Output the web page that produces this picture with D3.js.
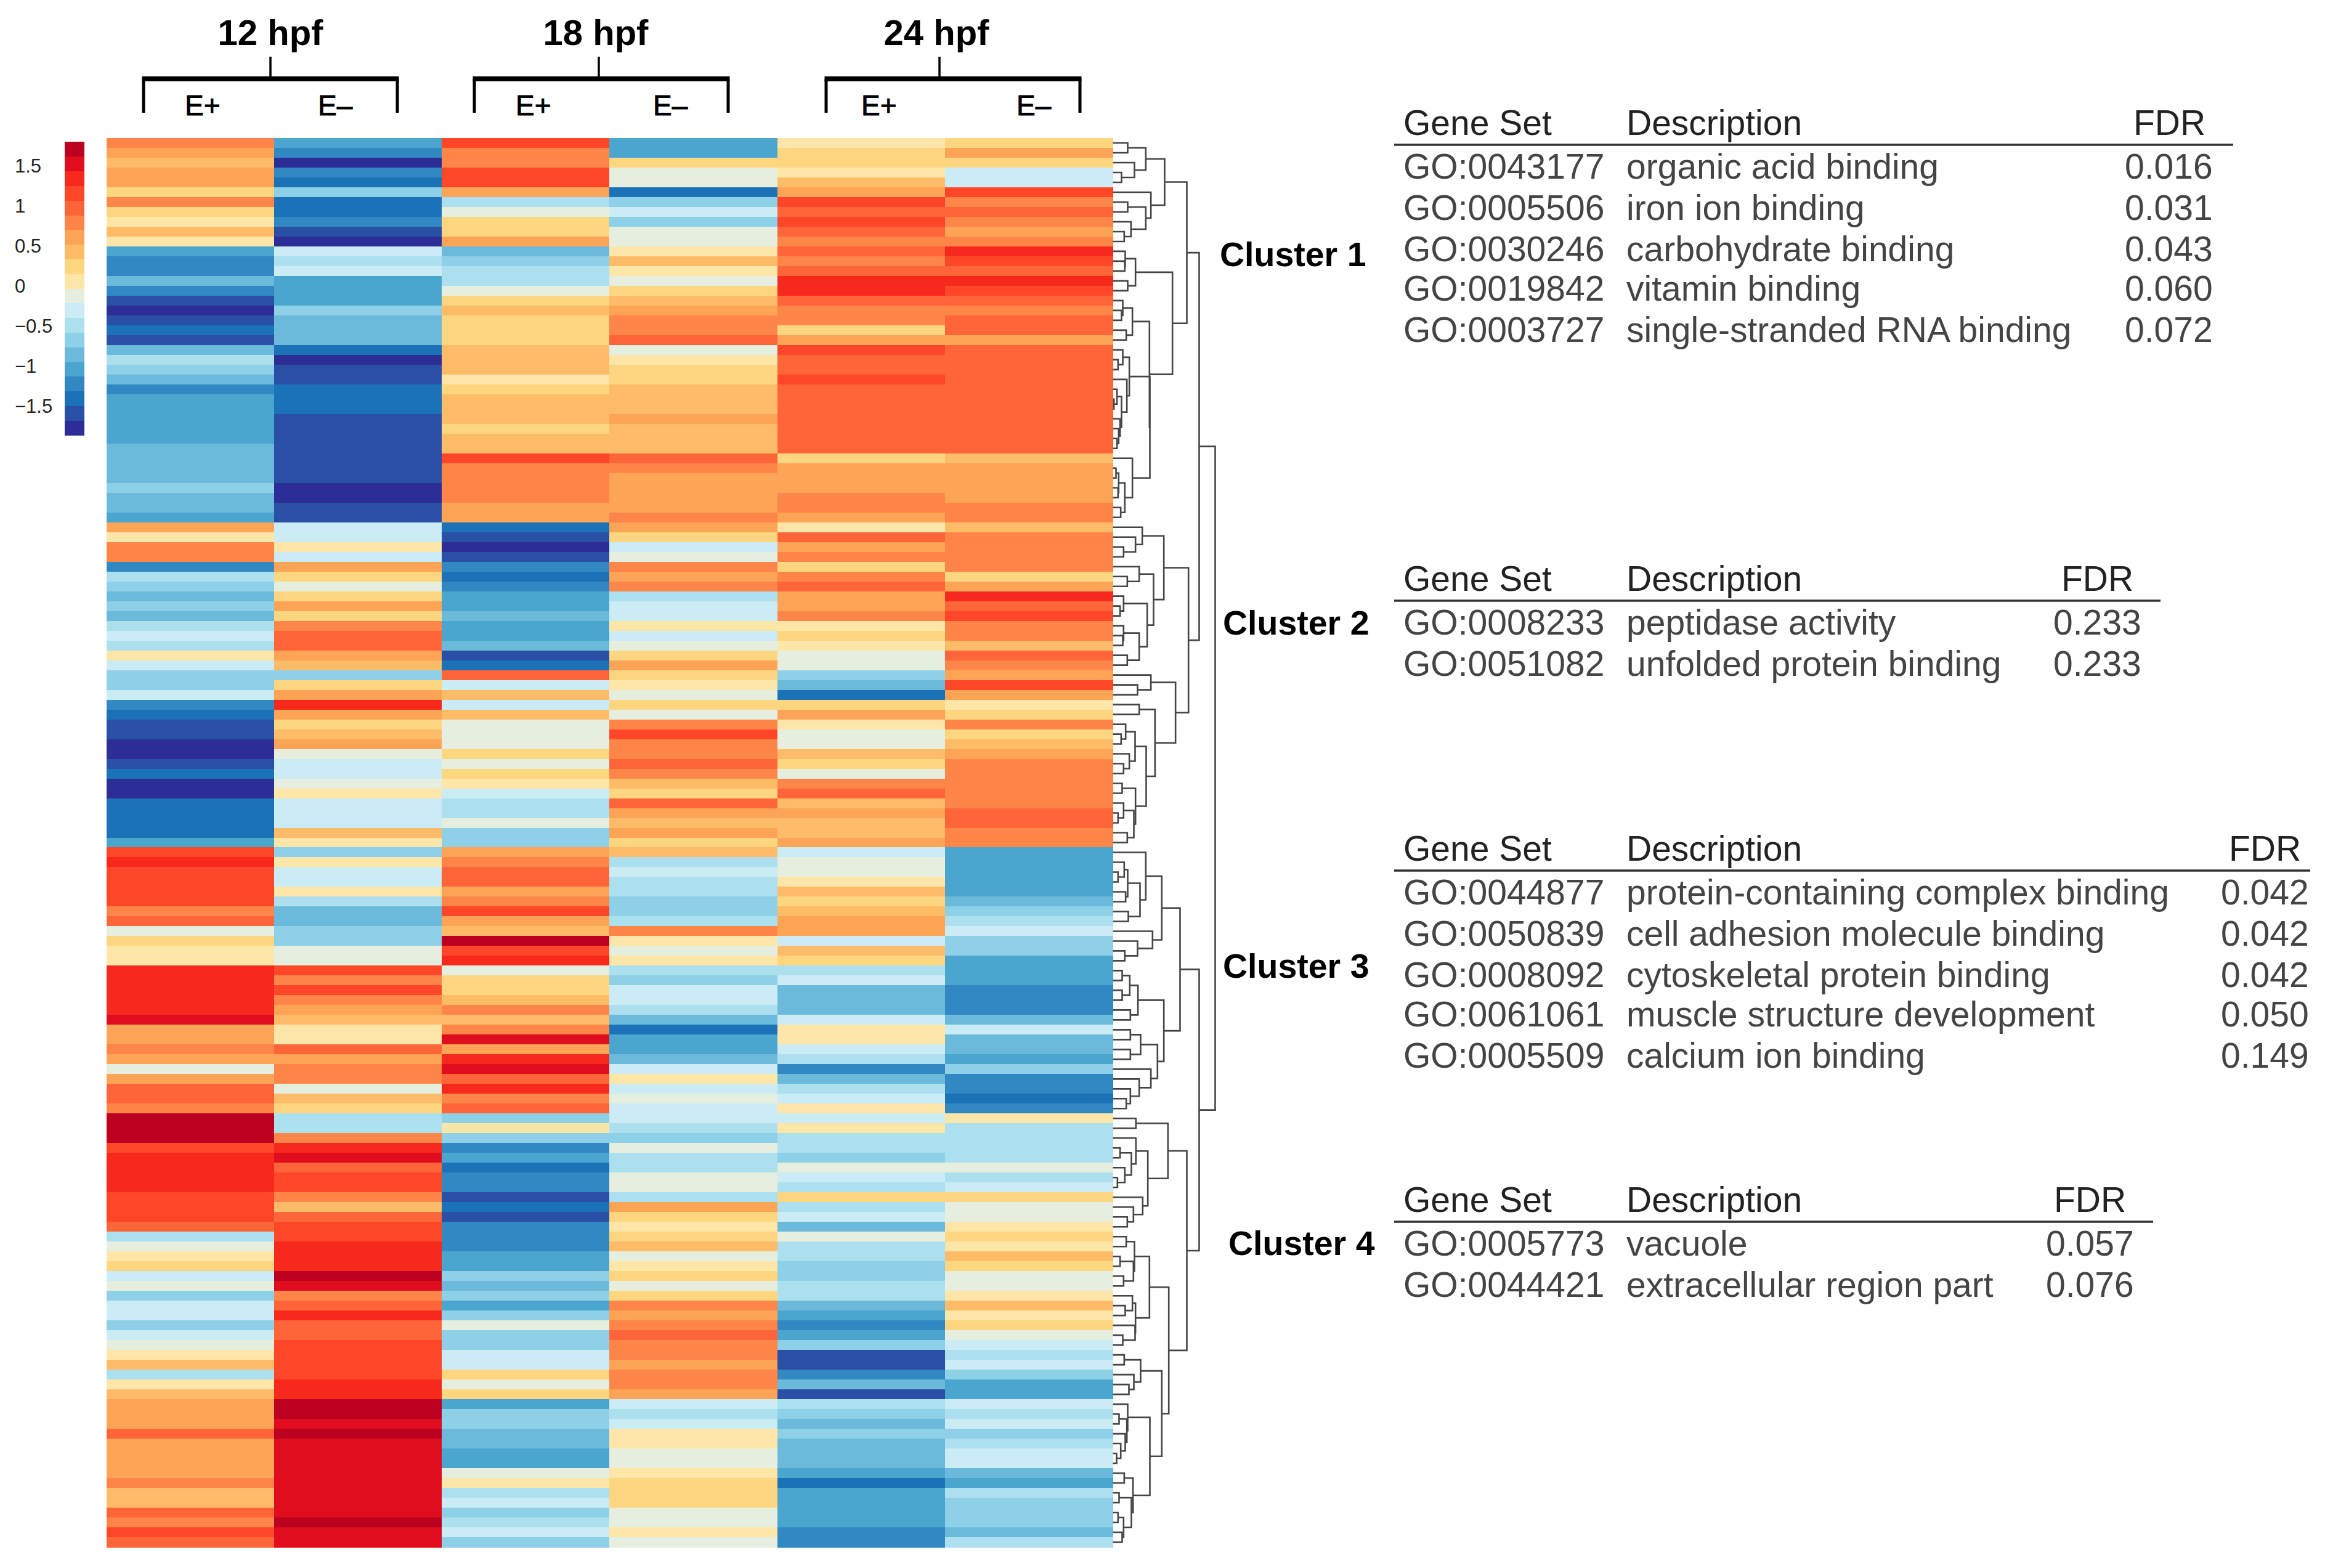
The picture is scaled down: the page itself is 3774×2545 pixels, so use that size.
<!DOCTYPE html>
<html>
<head>
<meta charset="utf-8">
<script src="https://cdn.jsdelivr.net/npm/d3@7"></script>
<style>
html,body{margin:0;padding:0;background:#fff}
svg{display:block}
text{font-family:"Liberation Sans",Arial,sans-serif}
</style>
</head>
<body>
<svg id="chart" width="3774" height="2545"></svg>
<script>
// ---------- data ----------
const conditions = ["12 E+","12 E-","18 E+","18 E-","24 E+","24 E-"];
const zE12p = [.8,.6,.4,.6,.6,.2,.8,.2,.1,.4,.1,-1,-1.2,-1.2,-.9,-1.2,-1.6,-1.8,-1.6,-1.4,-1.6,-.9,-.5,-.7,-.9,-1.2,-1,-1,-1,-1,-1,-.9,-.9,-.9,-.9,-.7,
-.9,-.9,-1,.6,.1,.8,.8,-1.2,-.5,-.7,-.9,-.7,-.9,-.5,-.3,-.5,.1,-.3,-.7,-.7,-.3,-1.2,-1.4,-1.6,-1.6,-1.8,-1.8,-1.6,-1.4,-1.8,-1.8,-1.4,-1.4,-1.4,-1.4,-1,
1.2,1.3,1.2,1.2,1.2,1.2,.8,1,-.1,.2,.1,.1,1.3,1.3,1.3,1.3,1.3,1.5,.6,.6,.8,.6,-.1,.6,1,1,.8,1.7,1.7,1.7,1.2,1.3,1.3,1.3,1.3,1.2,
1.2,1.2,1,-.5,-.1,.1,.2,-.3,-.1,-.7,-.3,-.3,-.7,-.3,-.1,.1,.4,-.5,.1,.4,.6,.6,.6,1,.6,.6,.6,.6,.8,.4,.4,1,.8,1.2,1];
const zE12m = [-1,-1.2,-1.8,-1.2,-1.4,-.7,-1.4,-1.4,-1.2,-1.6,-1.8,-.3,-.5,-.3,-1,-1,-1,-.7,-.9,-.9,-.9,-1.4,-1.8,-1.6,-1.6,-1.4,-1.4,-1.4,-1.6,-1.6,-1.6,-1.6,-1.6,-1.6,-1.6,-1.8,
-1.8,-1.6,-1.6,-.3,-.3,.1,-.3,.6,.2,-.1,.2,.6,.2,.8,1,1,.6,.4,-.7,.2,.6,1.3,.6,.2,.4,.6,-.1,-.3,-.3,-.1,.1,-.3,-.3,-.3,.4,.1,
-.7,.1,-.3,-.3,.1,-.5,-.9,-.9,-.7,-.7,-.1,-.1,1.2,.8,1.2,.8,.6,.4,.1,.1,1,.6,.8,.8,-.1,.4,.2,-.5,-.5,.8,1.3,1.5,1,1.2,1.2,.8,
.4,1,1.2,1.2,1.3,1.3,1.3,1.7,1.5,.8,1,1.3,1,1,1.2,1.2,1.2,1.2,1.3,1.3,1.7,1.7,1.5,1.7,1.5,1.5,1.5,1.5,1.5,1.5,1.5,1.5,1.7,1.5,1.5];
const zE18p = [1.2,.8,.8,1.2,1.2,.6,-.5,-.1,.2,.2,.6,-.9,-.7,-.5,-.5,-.1,.2,.4,.2,.2,.2,.4,.4,.4,.1,.2,.4,.4,.4,.2,.4,.4,1.2,.8,.8,.8,
.8,.6,.6,-1.4,-1.6,-1.8,-1.6,-1.2,-1.4,-1.2,-1,-1,-.9,-1,-1,-.9,-1.6,-1.4,1,-.3,.4,-.3,.4,-.1,-.1,-.1,.2,-.1,.2,.1,-.3,-.5,-.5,-.1,-.7,-.7,
.6,.8,1,1,.6,.8,1.2,.6,.4,1.7,1.2,1.3,-.1,.2,.2,.4,.8,.4,.8,1.5,.6,1.3,1.5,1,1.3,.8,1,-.7,.1,-.7,-1.2,-1,-1.4,-1.2,-1.2,-1.6,
-1.4,-1.6,-1.2,-1.2,-1.2,-1,-1,-.7,-.9,-.7,-1,-.7,-.1,-.7,-.7,-.3,-.3,.2,-.1,.2,-1,-.7,-.7,-.9,-.9,-1,-1,-.1,.1,-.5,-.3,-.7,-.5,-.3,-.7];
const zE18m = [-1,-1,.2,-.1,-.1,-1.4,-.7,-.3,-.7,-.1,-.1,.1,.4,.1,-.1,.2,.4,.6,.8,.8,1,-.1,.1,.2,.2,.4,.4,.4,.6,.4,.4,.4,1,.8,.6,.6,
.6,.6,.8,.6,.2,-.3,-.1,.8,.6,.8,-.5,-.3,-.3,.1,-.3,-.1,.2,.6,.2,.1,-.1,.2,-.1,.8,1.2,.8,.8,1,.8,.4,.2,1,.6,.4,.6,.2,
.4,-.5,-.3,-.5,-.5,-.7,-.7,-.5,.8,.1,-.1,.1,-.5,-.7,-.3,-.3,-.5,-.9,-1.4,-1,-1,-.9,-.3,.1,-.3,-.1,-.3,-.3,-.5,-.7,-.1,-.5,-.5,-.1,-.1,-.5,
.6,.2,.1,.2,.4,-.1,.1,.2,-.1,.2,.8,.6,.8,1,.8,.8,.6,.8,.8,.6,-.3,-.5,-.3,.1,.1,-.1,-.1,.1,.2,.2,.2,-.1,-.1,.1,-.1];
const zE24p = [.1,.2,.2,.1,.4,.6,1.2,1,1.2,1,.8,1,.8,1,1.3,1.3,1,.8,.8,.2,.6,1.2,1,1,1.2,1,1,1,1,1,1,1,.2,.6,.6,.6,
.8,.8,.6,.1,1,.6,.8,.2,.8,1,.6,.6,.8,.1,.2,.1,-.1,-.1,-.7,-.9,-1.4,.2,.6,.1,-.1,-.1,.4,.2,-.1,.8,1,.4,.6,.4,.4,.6,
-.3,-.1,-.1,.1,.4,.2,.4,.6,.6,-.3,.4,.2,-.5,-.3,-.9,-.9,-.9,-.3,.1,.1,-.3,-.5,-1.2,-.9,-.5,-.3,.1,-.3,.1,-.5,-.5,-.7,-.1,-.3,-.5,.2,
-.5,-.3,-.9,-.1,-.5,-.5,-.7,-.7,-.5,-.5,-.9,-1,-1.2,-1,-.7,-1.6,-1.6,-1.2,-.9,-1.6,-.5,-.7,-.9,-.7,-.9,-.9,-.9,-1,-1.4,-1,-1,-1,-1,-1.2,-1.2];
const zE24m = [.2,.6,.2,-.3,-.3,1.2,.8,1,.8,.6,.8,1.3,1.2,1,1.3,1.2,1,.8,1,1,.6,1,1,1,1,1,1,1,1,1,1,1,.4,.6,.6,.6,
.6,.8,.8,.4,.8,.8,.8,.8,.2,.6,1.3,1,1.2,.8,.8,.4,1,.8,.6,1.2,.6,.1,.2,.8,.2,.4,.6,.8,.8,.8,.8,.8,1,1,.8,.8,
-1,-1,-1,-1,-1,-.9,-.7,-.5,-.3,-.7,-.7,-1,-1,-1,-1.2,-1.2,-1.2,-.9,-.3,-.9,-.9,-1,-.7,-1.2,-1.2,-1.4,-1.2,.1,-.5,-.5,-.5,-.5,-.1,-.5,-.3,.2,
-.1,-.1,.1,.2,.1,.4,.2,-.1,-.1,.1,.4,.1,.2,-.1,-.3,-.5,-.3,-.7,-1,-1,-.3,-.5,-.3,-.7,-.5,-.3,-.3,-.9,-1,-.5,-.7,-.7,-.7,-.9,-.5];
const seriesValues = [zE12p,zE12m,zE18p,zE18m,zE24p,zE24m];

const palette = ["#2c2d96","#2a50a6","#1b72b6","#3288c2","#4aa6cf","#6bbadb","#8dd0e8","#ade0ee","#cbecf5","#e6efdf",
                 "#fde6a8","#fed680","#febc68","#fea457","#ff8548","#ff6539","#ff4629","#f7291c","#df0d1e","#bc001f"];
const legendTicks = [1.5,1,0.5,0,-0.5,-1,-1.5];

// dendrogram: [merge height, left child, right child]; 0 is a leaf, leaves in row order
const treeAB = [272,[180,[92,0,0],[125,0,[62,0,0]]],[205,0,[180,[92,0,0],[108,0,[75,0,0]]]]];
const tree310 = [310,[130,[80,0,[78,0,0]],[92,0,0]],
  [198,[115,[68,0,[62,0,0]],[85,0,0]],
   [200,[100,[68,0,[45,0,0]],[88,0,[62,[40,0,[25,0,0]],[55,0,[48,0,[40,0,0]]]]]],
        [115,0,[78,[48,[35,0,0],[45,0,0]],[58,0,0]]]]]];
const treeVa = [268,[163,0,[130,0,[72,0,0]]],
  [218,[148,0,[90,0,0]],[187,[72,0,[55,0,0]],[148,[72,0,[68,0,0]],[90,0,0]]]]];
const treeVb = [325,[205,0,[140,0,0]],
  [225,[148,0,0],[182,[128,[82,0,[60,0,0]],[100,0,[72,0,0]]],
                     [130,[65,0,0],[122,[72,0,[45,0,0]],[90,0,0]]]]]];
const treeC3 = [347,
  [258,[180,0,[152,[92,[75,0,[45,0,0]],[82,0,0]],[95,0,0]]],[213,0,[140,0,[78,0,0]]]],
  [268,[142,[102,[65,0,0],[65,0,0]],[105,0,0]],
       [237,[155,[105,0,0],[105,0,0]],[205,0,[148,0,[105,0,[85,0,0]]]]]]];
const treeD1 = [288,[132,0,0],[190,[132,0,[110,[55,0,0],[78,0,[42,0,0]]]],[165,0,[120,0,[90,0,0]]]]];
const treeD2 = [198,[125,[85,0,0],[120,[55,0,0],[72,0,0]]],[130,[115,0,[80,0,0]],[128,0,[68,0,0]]]];
const treeD3 = [258,[155,[75,0,0],[122,0,[98,0,0]]],
  [200,[92,0,[88,[50,0,0],[80,0,[58,0,[38,0,0]]]]],
       [118,[75,0,0],[110,[50,0,0],[72,[45,0,0],[65,0,0]]]]]];
const treeRoot = [518,[440,[380,treeAB,tree310],[388,treeVa,treeVb]],[440,treeC3,[380,treeD1,[292,treeD2,treeD3]]]];

const timeLabels = ["12 hpf","18 hpf","24 hpf"];
const clusterNames = ["Cluster 1","Cluster 2","Cluster 3","Cluster 4"];
const headGene = "Gene Set", headDesc = "Description", headFdr = "FDR";
const cluster1Sets = ["GO:0043177","GO:0005506","GO:0030246","GO:0019842","GO:0003727"];
const cluster1Desc = ["organic acid binding","iron ion binding","carbohydrate binding","vitamin binding","single-stranded RNA binding"];
const cluster1Fdr  = ["0.016","0.031","0.043","0.060","0.072"];
const cluster2Sets = ["GO:0008233","GO:0051082"];
const cluster2Desc = ["peptidase activity","unfolded protein binding"];
const cluster2Fdr  = ["0.233","0.233"];
const cluster3Sets = ["GO:0044877","GO:0050839","GO:0008092","GO:0061061","GO:0005509"];
const cluster3Desc = ["protein-containing complex binding","cell adhesion molecule binding","cytoskeletal protein binding","muscle structure development","calcium ion binding"];
const cluster3Fdr  = ["0.042","0.042","0.042","0.050","0.149"];
const cluster4Sets = ["GO:0005773","GO:0044421"];
const cluster4Desc = ["vacuole","extracellular region part"];
const cluster4Fdr  = ["0.057","0.076"];

// ---------- layout ----------
const svg = d3.select("#chart");
const rowIds = d3.range(zE12p.length);
const x = d3.scaleBand().domain(conditions).range([172.5,1806]);
const y = d3.scaleBand().domain(rowIds).range([224,2511]);
const color = d3.scaleQuantize().domain([-1.86,1.8]).range(palette);
const legendY = d3.scaleLinear().domain([-1.86,1.8]).range([706,230]);
const dendroX = d3.scaleLinear().domain([20,518]).range([1806.5,1972.5]);

// heatmap
const cols = svg.append("g").attr("shape-rendering","crispEdges").selectAll("g")
  .data(seriesValues).join("g").attr("transform",(d,i)=>`translate(${x(conditions[i])},0)`);
cols.selectAll("rect").data(d=>d).join("rect")
  .attr("x",0).attr("y",(d,i)=>y(i)).attr("width",x.bandwidth()+.6).attr("height",y.bandwidth()+.6)
  .attr("fill",d=>color(d));

// colour legend
svg.append("g").attr("shape-rendering","crispEdges").selectAll("rect").data(palette).join("rect")
  .attr("x",104.5).attr("width",32)
  .attr("y",c=>legendY(color.invertExtent(c)[1]))
  .attr("height",c=>legendY(color.invertExtent(c)[0])-legendY(color.invertExtent(c)[1])+.6)
  .attr("fill",c=>c);
svg.append("g").selectAll("text").data(legendTicks).join("text")
  .attr("x",24).attr("y",d=>legendY(d)).attr("dy","0.36em")
  .attr("font-size",31).attr("fill","#222")
  .text(d=>String(d).replace("-","\u2212"));

// dendrogram
const root = d3.hierarchy(treeRoot,d=>Array.isArray(d)?d.slice(1):null);
root.leaves().forEach((l,i)=>{l.py=y(i)+y.bandwidth()/2;});
root.eachAfter(n=>{
  n.h = Array.isArray(n.data)?n.data[0]:20;
  if(n.children) n.py = (n.children[0].py+n.children[1].py)/2;
});
svg.append("g").attr("fill","none").attr("stroke","#454545").attr("stroke-width",2.6)
  .selectAll("path").data(root.descendants().filter(n=>n.children)).join("path")
  .attr("d",n=>{
    const [a,b]=n.children, X=dendroX(n.h);
    return `M${dendroX(a.h)},${a.py}H${X}V${b.py}H${dendroX(b.h)}`;
  });

// top brackets
const brackets = [[233,645,439],[770,1182,972],[1341,1753,1525]];
const labelX = [439,967,1520];
const br = svg.append("g").selectAll("g").data(brackets).join("g");
br.append("path").attr("fill","none").attr("stroke","#000").attr("stroke-width",5)
  .attr("d",d=>`M${d[0]},183V128M${d[1]},183V128`);
br.append("path").attr("fill","none").attr("stroke","#000").attr("stroke-width",8)
  .attr("d",d=>`M${d[0]-2.5},128H${d[1]+2.5}`);
br.append("path").attr("fill","none").attr("stroke","#000").attr("stroke-width",3.5)
  .attr("d",d=>`M${d[2]},92V128`);
br.append("text").attr("x",(d,i)=>labelX[i]).attr("y",73).attr("text-anchor","middle")
  .attr("font-size",58).attr("font-weight","bold").attr("fill","#000").text((d,i)=>timeLabels[i]);
const subX = [[300,516],[837,1060],[1398,1650]];
subX.forEach(p=>{
  svg.append("text").attr("x",p[0]).attr("y",187).attr("font-size",46).attr("fill","#000")
    .attr("stroke","#000").attr("stroke-width",.9).text("E+");
  svg.append("text").attr("x",p[1]).attr("y",187).attr("font-size",46).attr("fill","#000")
    .attr("stroke","#000").attr("stroke-width",.9).text("E\u2013");
});

// cluster labels
const clusterPos = [[1980,412],[1985,1010],[1985,1567],[1994,2017]];
svg.append("g").selectAll("text").data(clusterNames).join("text")
  .attr("x",(d,i)=>clusterPos[i][0]).attr("y",(d,i)=>clusterPos[i][1]).attr("dy","0.36em")
  .attr("font-size",55.5).attr("font-weight","bold").attr("fill","#000").text(d=>d);

// tables
const tables = [
  {sets:cluster1Sets,desc:cluster1Desc,fdr:cluster1Fdr,rule:235,end:3625,fh:3463,fv:3450},
  {sets:cluster2Sets,desc:cluster2Desc,fdr:cluster2Fdr,rule:975,end:3507,fh:3346,fv:3334},
  {sets:cluster3Sets,desc:cluster3Desc,fdr:cluster3Fdr,rule:1413,end:3750,fh:3618,fv:3606},
  {sets:cluster4Sets,desc:cluster4Desc,fdr:cluster4Fdr,rule:1983,end:3495,fh:3334,fv:3322}
];
const rowOff = [55,122,189,253,320];
const hdr = "#222", body = "#444";
const t = svg.append("g").attr("font-size",57).selectAll("g").data(tables).join("g");
t.append("line").attr("x1",2263).attr("x2",d=>d.end).attr("y1",d=>d.rule).attr("y2",d=>d.rule)
  .attr("stroke","#333").attr("stroke-width",3.5);
t.append("text").attr("x",2278).attr("y",d=>d.rule-16).attr("fill",hdr).text(headGene);
t.append("text").attr("x",2640).attr("y",d=>d.rule-16).attr("fill",hdr).text(headDesc);
t.append("text").attr("x",d=>d.fh).attr("y",d=>d.rule-16).attr("fill",hdr).text(headFdr);
t.each(function(d){
  const g=d3.select(this);
  d.sets.forEach((s,i)=>{
    const yy=d.rule+rowOff[i];
    g.append("text").attr("x",2278).attr("y",yy).attr("fill",body).text(s);
    g.append("text").attr("x",2640).attr("y",yy).attr("fill",body).text(d.desc[i]);
    g.append("text").attr("x",d.fv-1).attr("y",yy).attr("fill",body).text(d.fdr[i]);
  });
});
</script>
</body>
</html>
